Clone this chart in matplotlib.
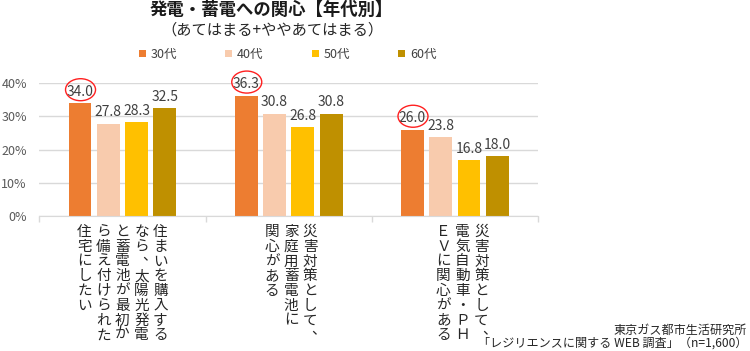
import matplotlib
matplotlib.use("Agg")
import matplotlib.pyplot as plt
from matplotlib.patches import Patch, Ellipse
from matplotlib.ticker import FuncFormatter

plt.rcParams['font.family'] = ['Noto Sans CJK JP', 'DejaVu Sans']

# ---- data ----
title = "発電・蓄電への関心【年代別】"
subtitle = "（あてはまる+ややあてはまる）"
series_names = ["30代", "40代", "50代", "60代"]
series_colors = ["#ED7D31", "#F8CBAD", "#FFC000", "#BF9000"]
categories = [
    ["住まいを購入する", "なら、太陽光発電", "と蓄電池が最初か", "ら備え付けられた", "住宅にしたい"],
    ["災害対策として、", "家庭用蓄電池に", "関心がある"],
    ["災害対策として、", "電気自動車・ＰＨ", "ＥＶに関心がある"],
]
values = {
    "30代": [34.0, 36.3, 26.0],
    "40代": [27.8, 30.8, 23.8],
    "50代": [28.3, 26.8, 16.8],
    "60代": [32.5, 30.8, 18.0],
}
highlight = [(0, "30代"), (1, "30代"), (2, "30代")]  # circled labels
yticks = [0, 10, 20, 30, 40]
source_lines = ["東京ガス都市生活研究所", "「レジリエンスに関する WEB 調査」（n=1,600）"]

# ---- layout ----
W, H, DPI = 750, 351, 100
fig = plt.figure(figsize=(W / DPI, H / DPI), dpi=DPI)
ax_l, ax_r, ax_b, ax_t = 39.3, 538.0, 216.0, 83.3
ax = fig.add_axes([ax_l / W, 1 - ax_b / H, (ax_r - ax_l) / W, (ax_b - ax_t) / H])
ax.set_xlim(-0.5, len(categories) - 0.5)
ax.set_ylim(0, 40)

px_x = (len(categories)) / (ax_r - ax_l)   # data units per pixel (x)
px_y = 40 / (ax_b - ax_t)                  # data units per pixel (y)

step = 0.17
bw = 0.138
label_off = 11.5
for i, name in enumerate(series_names):
    xs = [k + (i - 1.5) * step for k in range(len(categories))]
    ax.bar(xs, values[name], width=bw, color=series_colors[i], zorder=3)
    for k, (x, v) in enumerate(zip(xs, values[name])):
        ax.annotate(f"{v:.1f}", (x, v), xytext=(0, label_off), textcoords='offset pixels',
                    ha='center', va='center', fontsize=10, color='#404040',
                    annotation_clip=False, zorder=5)
        if (k, name) in highlight:
            e = Ellipse((x + 0.5 * px_x, v + (label_off + 2) * px_y), width=30 * px_x,
                        height=22 * px_y, fill=False, edgecolor='#FF2020', lw=1.0,
                        clip_on=False, zorder=6)
            ax.add_patch(e)

# axes styling
for s in ['top', 'right', 'left']:
    ax.spines[s].set_visible(False)
ax.spines['bottom'].set_color('#D9D9D9')
ax.spines['bottom'].set_zorder(4)
ax.set_yticks(yticks)
ax.yaxis.set_major_formatter(FuncFormatter(lambda v, p: f"{int(v)}%"))
ax.tick_params(axis='y', length=0, pad=9, labelsize=9, labelcolor='#595959')
ax.yaxis.grid(True, color='#D9D9D9', lw=1.0, zorder=0)
ax.set_axisbelow(True)
ax.set_xticks([k - 0.5 for k in range(len(categories) + 1)])
ax.set_xticklabels([])
ax.tick_params(axis='x', length=4, color='#D9D9D9', width=1)

# vertical category labels
group_shift = [0, 2.5, 7.5]
col_gap = 19.0
pitch = 14.75
for k, cols in enumerate(categories):
    n = len(cols)
    for j, col in enumerate(cols):
        xo = ((n - 1) / 2 - j) * col_gap + group_shift[k]
        for i, ch in enumerate(col):
            yo = -(16 + i * pitch)
            dx, dy = (0, 0)
            if ch in "、":
                dx, dy = 8, 5
            ax.annotate(ch, xy=(k, 0), xycoords=('data', 'axes fraction'),
                        xytext=(xo + dx, yo + dy), textcoords='offset pixels',
                        ha='center', va='center', fontsize=10.5, color='#262626',
                        annotation_clip=False)

# titles
fig.text(271.7 / W, 1 - 10 / H, title, ha='center', va='center', fontsize=12.5,
         weight='bold', color='#1A1A1A')
fig.text(272 / W, 1 - 30 / H, subtitle, ha='center', va='center', fontsize=11,
         color='#262626')

# legend
handles = [Patch(facecolor=c, edgecolor='none', label=n) for n, c in zip(series_names, series_colors)]
fig.legend(handles=handles, loc='center', bbox_to_anchor=(287.5 / W, 1 - 54.5 / H), ncol=4,
           frameon=False, handlelength=0.56, handleheight=0.56, handletextpad=0.38,
           columnspacing=3.86, fontsize=9, labelcolor='#404040', borderpad=0)

# source
fig.text(747 / W, 1 - 330 / H, source_lines[0], ha='right', va='center', fontsize=8.7,
         color='#262626')
fig.text(747 / W, 1 - 343.3 / H, source_lines[1], ha='right', va='center', fontsize=8.7,
         color='#262626')

fig.savefig("out.png", dpi=DPI)
